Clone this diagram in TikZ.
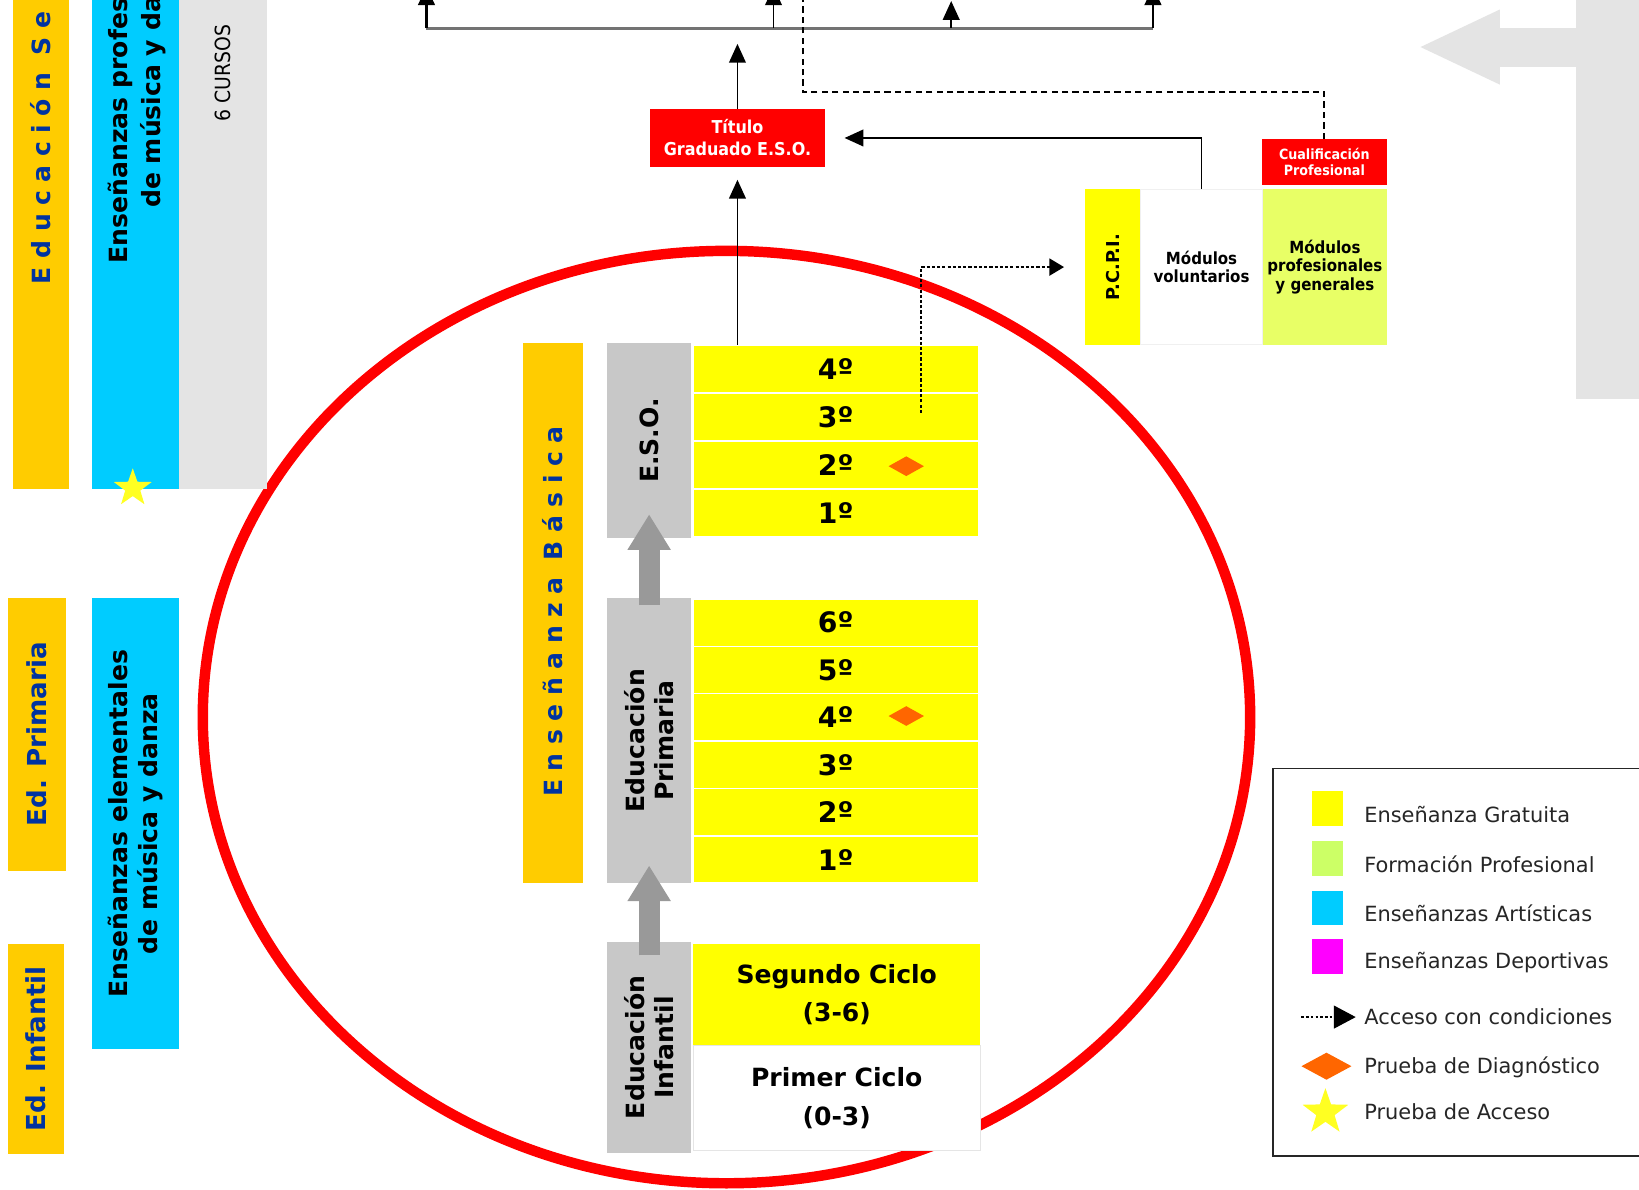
\documentclass[tikz,border=0pt]{standalone}
\usepackage{fontspec}
\setmainfont{DejaVu Sans}
\newfontfamily\condfont{DejaVu Sans Condensed}
\newfontfamily\spacedfont[LetterSpace=34]{DejaVu Sans}
\usetikzlibrary{arrows.meta,positioning,calc,shapes.geometric}
\definecolor{stageorange}{HTML}{FFCC00}
\definecolor{artcyan}{HTML}{00CCFF}
\definecolor{panelgray}{HTML}{E4E4E4}
\definecolor{cyclegray}{HTML}{C8C8C8}
\definecolor{flowgray}{HTML}{999999}
\definecolor{freeyellow}{HTML}{FFFF00}
\definecolor{fplime}{HTML}{E8FF66}
\definecolor{keylime}{HTML}{CCFF66}
\definecolor{titlered}{HTML}{FF0000}
\definecolor{testorange}{HTML}{FF6600}
\definecolor{stageblue}{HTML}{0033A0}
\definecolor{sportmagenta}{HTML}{FF00FF}
\definecolor{staryellow}{HTML}{FFFF22}
\tikzset{cell/.style={rectangle,inner sep=0pt,outer sep=0pt,align=center},vtext/.style={rotate=90,inner sep=0pt,align=center},stagetext/.style={vtext,text=stageblue,font=\bfseries\fontsize{25}{27}\selectfont},spacedtext/.style={vtext,text=stageblue,font=\spacedfont\bfseries\fontsize{24}{26}\selectfont},blocktext/.style={vtext,font=\bfseries\fontsize{24}{27}\selectfont},grade/.style={cell,fill=freeyellow,draw=white,line width=1.5pt,minimum width=273pt,font=\bfseries\fontsize{27}{30}\selectfont},certbox/.style={cell,fill=titlered,text=white,font=\condfont\bfseries\fontsize{17}{21}\selectfont},modtext/.style={font=\condfont\bfseries\fontsize{16}{17.5}\selectfont},testmark/.style={diamond,fill=testorange,inner sep=0pt,minimum width=34pt,minimum height=19pt},accesstest/.style={star,star points=5,star point ratio=2.5,fill=staryellow,inner sep=0pt},flow/.style={-{Triangle[length=18pt,width=16pt]},line width=1.6pt},growth/.style={draw=flowgray,line width=20pt,-{Triangle[length=34pt,width=39pt]}},condline/.style={line width=2pt,dash pattern=on 6pt off 4pt},accline/.style={line width=2.4pt,dash pattern=on 3pt off 2pt,-{Triangle[length=14pt,width=16pt]}},keyswatch/.style={cell,minimum width=30pt,minimum height=33pt},keytext/.style={anchor=west,inner sep=0pt,text=black!85,font=\fontsize{20}{24}\selectfont}}

\begin{document}
\begin{tikzpicture}[x=1pt,y=-1pt]
\clip (0,0) rectangle (1568,1138);
\fill[white] (0,0) rectangle (1568,1138);
\draw[titlered,line width=10pt] (695,686) ellipse [x radius=501,y radius=446];
% left column
\node[cell,fill=stageorange,minimum width=54pt,minimum height=478pt] (secband) at (39,229) {};
\node[cell,fill=artcyan,minimum width=83pt,minimum height=478pt] (profband) at (129.5,229) {};
\node[cell,fill=panelgray,minimum width=84pt,minimum height=478pt] (cursos) at (213,229) {};
\node[spacedtext,anchor=west] at (39,272) {Educación Se};
\node[vtext,anchor=west,font=\bfseries\fontsize{24}{29}\selectfont] at (115,252) {Enseñanzas profes};
\node[vtext,anchor=west,font=\bfseries\fontsize{24}{29}\selectfont] at (147,199) {de música y da};
\node[vtext,font=\condfont\fontsize{20}{22}\selectfont] at (213,70) {6 CURSOS};
\node[accesstest,minimum size=38pt] at (127,467) {};
\node[cell,fill=stageorange,minimum width=55pt,minimum height=261pt] (edprim) at (35.5,702.5) {};
\node[stagetext] at (edprim) {Ed. Primaria};
\node[cell,fill=artcyan,minimum width=83pt,minimum height=432pt] (elemband) at (129.5,788) {};
\node[vtext,font=\bfseries\fontsize{24}{29}\selectfont] at (elemband) {Enseñanzas elementales\\de música y danza};
\node[cell,fill=stageorange,minimum width=53pt,minimum height=201pt] (edinf) at (34.5,1003.5) {};
\node[stagetext] at (edinf) {Ed. Infantil};
% basic schooling
\node[cell,fill=stageorange,minimum width=58pt,minimum height=517pt] (basica) at (529,586.5) {};
\node[spacedtext] at (529,585) {Enseñanza Básica};
\node[cell,fill=cyclegray,minimum width=80pt,minimum height=187pt] (esoblock) at (621,421.5) {};
\node[blocktext] at (esoblock) {E.S.O.};
\node[cell,fill=cyclegray,minimum width=80pt,minimum height=273pt] (primblock) at (621,708.5) {};
\node[blocktext] at (primblock) {Educación\\Primaria};
\node[cell,fill=cyclegray,minimum width=80pt,minimum height=202pt] (infblock) at (621,1002) {};
\node[blocktext] at (infblock) {Educación\\Infantil};
\foreach \g/\y in {4/353,3/399,2/445,1/491}{\node[grade,minimum height=46pt] (eso\g) at (799.5,\y) {\g º};}
\foreach \g/\y in {6/595.7,5/641,4/686.3,3/731.7,2/777,1/822.3}{\node[grade,minimum height=45.33pt] (prim\g) at (799.5,\y) {\g º};}
\node[testmark] at (867,446) {};
\node[testmark] at (867,685) {};
\node[cell,fill=freeyellow,minimum width=275pt,minimum height=97pt,font=\bfseries\fontsize{24}{37}\selectfont] (segundo) at (800.5,951.5) {Segundo Ciclo\\(3-6)};
\node[cell,fill=white,draw=black!10,line width=1pt,minimum width=275pt,minimum height=101pt,font=\bfseries\fontsize{24}{37}\selectfont] (primer) at (800.5,1050.5) {Primer Ciclo\\(0-3)};
\draw[growth] ([yshift=-7pt]primblock.north) -- ([yshift=23pt]esoblock.south);
\draw[growth] ([yshift=-13pt]infblock.north) -- ([yshift=17pt]primblock.south);
% certificates and PCPI
\node[certbox,minimum width=167pt,minimum height=56pt] (titulo) at (705.5,132) {Título\\Graduado E.S.O.};
\node[certbox,minimum width=120pt,minimum height=44pt,font=\condfont\bfseries\fontsize{13.5}{15}\selectfont] (cualif) at (1267,155) {Cualificación\\Profesional};
\node[cell,fill=freeyellow,minimum width=53pt,minimum height=149pt] (pcpi) at (1064.5,255.5) {};
\node[vtext,font=\bfseries\fontsize{17}{19}\selectfont] at (pcpi) {P.C.P.I.};
\node[cell,modtext,fill=white,draw=black!6,line width=1pt,minimum width=117pt,minimum height=149pt,right=0pt of pcpi] (modvol) {Módulos\\voluntarios};
\node[cell,modtext,fill=fplime,minimum width=119pt,minimum height=149pt,right=0pt of modvol] (modprof) {Módulos\\profesionales\\y generales};
% upper connectors
\coordinate (busL) at (408,27); \coordinate (busR) at (1103,27);
\draw[black!55,line width=2.5pt] (busL) -- (busR);
\foreach \n/\x/\y/\w in {a/408/-13/2.4,b/740/-13/1.6,c/910/1/1.6,d/1103/-13/2.4}{\coordinate (up\n) at (\x,\y); \draw[flow,line width=\w pt] (up\n |- busL) -- (up\n);}
\draw[flow,shorten >=12pt] (titulo.south |- eso4.north) -- (titulo.south);
\draw[flow,shorten >=15pt] (titulo.north) -- (titulo.north |- busL);
\draw[flow,shorten >=19pt] (modvol.north) |- (titulo.east);
\coordinate (dashturn) at (768,88); \coordinate (dashtop) at (768,-5);
\draw[condline] (cualif.north) |- (dashturn) -- (dashtop);
\coordinate (accstart) at (881,395);
\draw[accline,shorten >=20pt] (accstart) |- (pcpi.west);
% right side
\fill[panelgray] (1508,-5) rectangle (1580,382);
\fill[panelgray] (1359,45) -- (1435,9) -- (1435,27) -- (1512,27) -- (1512,64) -- (1435,64) -- (1435,81) -- cycle;
% legend
\node[cell,draw=black!85,line width=1.5pt,minimum width=362pt,minimum height=371pt] (legend) at (1399,920.5) {};
\foreach \i/\c/\y/\t in {1/freeyellow/773.5/Enseñanza Gratuita,2/keylime/821.5/Formación Profesional,3/artcyan/868.5/Enseñanzas Artísticas,4/sportmagenta/915/Enseñanzas Deportivas}{\node[keyswatch,fill=\c] (key\i) at (1270,\y) {}; \node[keytext] at (1305,\y+5.5) {\t};}
\coordinate (keyA) at (1245,973); \coordinate (keyB) at (1297,973);
\draw[line width=1.3pt,dash pattern=on 2.5pt off 2pt,-{Triangle[length=21pt,width=22pt]}] (keyA) -- (keyB);
\node[keytext] at (1305,973) {Acceso con condiciones};
\node[testmark,minimum width=48pt,minimum height=26pt] at (1269,1020) {};
\node[keytext] at (1305,1021) {Prueba de Diagnóstico};
\node[accesstest,minimum size=46pt] at (1268,1064) {};
\node[keytext] at (1305,1064) {Prueba de Acceso};
\end{tikzpicture}
\end{document}
